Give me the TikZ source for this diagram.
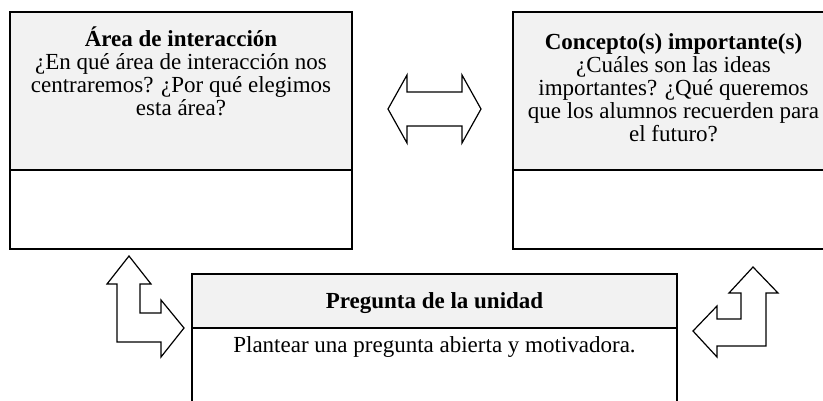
\documentclass[tikz,border=0pt]{standalone}
\usepackage{fontspec}
\setmainfont{Liberation Serif}
\usetikzlibrary{positioning}
\definecolor{headgray}{RGB}{242,242,242}
\tikzset{
	head/.style={draw, line width=1pt, fill=headgray, inner sep=0pt, anchor=north west},
	body/.style={draw, line width=1pt, fill=white, inner sep=0pt, anchor=north west},
	frame/.style={draw, line width=2pt},
	txt/.style={font=\fontsize{23}{23}\selectfont, align=center, inner sep=0pt},
	blockarrow/.style={draw, line width=1.2pt, fill=white, line join=miter},
}
\begin{document}
\begin{tikzpicture}[x=1pt, y=-1pt]
	\useasboundingbox (0,0) rectangle (823,400);

	% boxes
	\node[head, minimum width=341pt, minimum height=157pt] (areahead) at (10,12) {};
	\node[body, minimum width=341pt, minimum height=78pt] (areabody) at (areahead.south west) {};
	\draw[frame] (areahead.north west) rectangle (areabody.south east);

	\node[head, minimum width=320pt, minimum height=157pt] (conchead) at (513,12) {};
	\node[body, minimum width=320pt, minimum height=78pt] (concbody) at (conchead.south west) {};
	\draw[frame] (conchead.north west) rectangle (concbody.south east);

	\node[head, minimum width=484pt, minimum height=53pt] (preghead) at (192,274) {};
	\node[body, minimum width=484pt, minimum height=77pt] (pregbody) at (preghead.south west) {};
	\draw[frame] (preghead.north west) rectangle (pregbody.south east);

	% texts
	\node[txt, below=15pt of areahead.north] (areatext) {\textbf{Área de interacción}\\
		¿En qué área de interacción nos\\
		centraremos? ¿Por qué elegimos\\
		esta área?};
	\node[txt, below=21pt of conchead.north] (conctext) {\textbf{Concepto(s) importante(s)}\\
		¿Cuáles son las ideas\\
		importantes? ¿Qué queremos\\
		que los alumnos recuerden para\\
		el futuro?};
	\node[txt] (pregtext) at ([yshift=-2pt]preghead.center) {\textbf{Pregunta de la unidad}};
	\node[txt, below=8pt of pregbody.north] (pregbodytext) {Plantear una pregunta abierta y motivadora.};

	% block arrows
	\draw[blockarrow] (388,109) -- (407,75) -- (407,92) -- (462,92) -- (462,75) -- (481,109)
		-- (462,143) -- (462,126) -- (407,126) -- (407,143) -- cycle;
	\draw[blockarrow] (129,256) -- (151,284) -- (140,284) -- (140,313) -- (161,313) -- (161,300)
		-- (184,328) -- (161,357) -- (161,342) -- (117,342) -- (117,284) -- (107,284) -- cycle;
	\draw[blockarrow] (753,267) -- (778,293) -- (766,293) -- (766,346) -- (717,346) -- (717,357)
		-- (693,331) -- (717,306) -- (717,319) -- (741,319) -- (741,293) -- (729,293) -- cycle;
\end{tikzpicture}
\end{document}
